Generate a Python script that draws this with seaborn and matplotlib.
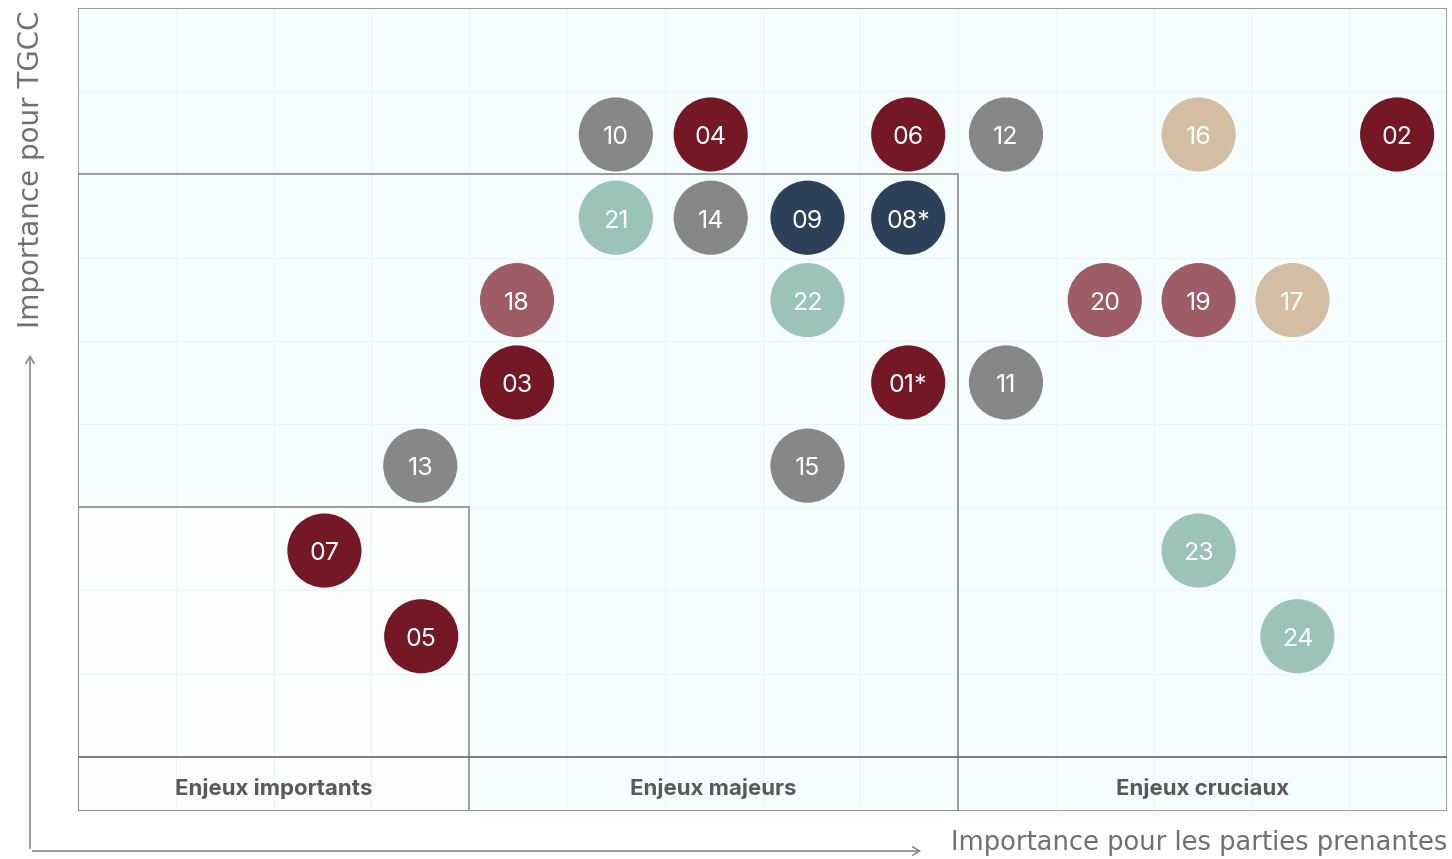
import pandas as pd
import matplotlib.pyplot as plt
import matplotlib.patches as mpatches
import seaborn as sns

# Enjeux : numéro, position (parties prenantes / TGCC), famille
labels = ['01*', '02', '03', '04', '05', '06', '07', '08*', '09', '10', '11', '12',
          '13', '14', '15', '16', '17', '18', '19', '20', '21', '22', '23', '24']
x_pp = [8.49, 13.49, 4.49, 6.47, 3.51, 8.49, 2.52, 8.49, 7.46, 5.50, 9.49, 9.49,
        3.50, 6.47, 7.46, 11.46, 12.42, 4.49, 11.46, 10.50, 5.50, 7.46, 11.46, 12.47]
y_tgcc = [4.50, 7.48, 4.50, 7.48, 1.45, 7.48, 2.48, 6.48, 6.48, 7.48, 4.50, 7.48,
          3.50, 6.48, 3.50, 7.48, 5.49, 5.49, 5.49, 5.49, 6.48, 5.49, 2.48, 1.45]
famille = ['rouge', 'rouge', 'rouge', 'rouge', 'rouge', 'rouge', 'rouge', 'marine', 'marine',
           'gris', 'gris', 'gris', 'gris', 'gris', 'gris', 'beige', 'beige', 'rose', 'rose',
           'rose', 'vert', 'vert', 'vert', 'vert']

palette = {'rouge': '#751826', 'gris': '#878787', 'marine': '#2c4057',
           'vert': '#9bc3b8', 'rose': '#9e5c64', 'beige': '#d3bea3'}

zones = ['Enjeux importants', 'Enjeux majeurs', 'Enjeux cruciaux']
zone_limites_x = [0, 4, 9, 14]
zone_limites_y = [3, 7, 9]

df = pd.DataFrame({'label': labels, 'x': x_pp, 'y': y_tgcc, 'famille': famille})

sns.set_style('white')
plt.rcParams['font.family'] = ['Inter', 'DejaVu Sans']

fig = plt.figure(figsize=(14.52, 8.59), dpi=100)
W, H = 1452, 859
ax = fig.add_axes([78 / W, 1 - 811 / H, (1447 - 78) / W, (811 - 8) / H])

band = -0.65
ax.set_xlim(0, 14)
ax.set_ylim(band, 9)

fond = '#f5fdfe'
edge = '#8c8c8c'
ax.add_patch(mpatches.Rectangle((0, band), 14, 9 - band, facecolor=fond, edgecolor='none', zorder=0))
ax.add_patch(mpatches.Rectangle((0, band), 4, 3 - band, facecolor='#fcfdfd', edgecolor='none', zorder=0))

# grille légère
for i in range(1, 14):
    ax.plot([i, i], [band, 9], color='#eef5f5', lw=0.8, zorder=0.5)
for j in range(1, 9):
    ax.plot([0, 14], [j, j], color='#eef5f5', lw=0.8, zorder=0.5)

# cadres des zones
for k in range(3):
    x1 = zone_limites_x[k + 1]
    top = zone_limites_y[k]
    ax.add_patch(mpatches.Rectangle((0, band), x1, top - band, facecolor='none',
                                    edgecolor=edge, lw=1.2, zorder=1))
ax.plot([0, 14], [0, 0], color='#666666', lw=1.2, zorder=1)

for k, z in enumerate(zones):
    xc = (zone_limites_x[k] + zone_limites_x[k + 1]) / 2
    ax.text(xc, band / 2 - 0.05, z, ha='center', va='center', fontsize=16,
            fontweight='bold', color='#595959', zorder=2)

sns.scatterplot(data=df, x='x', y='y', hue='famille', palette=palette, s=2850,
                edgecolor='none', legend=False, ax=ax, zorder=3)
for _, r in df.iterrows():
    ax.text(r['x'], r['y'] - 0.04, r['label'], ha='center', va='center',
            fontsize=18, color='white', zorder=4)

ax.set_xticks([])
ax.set_yticks([])
ax.set_xlabel('')
ax.set_ylabel('')
for s in ax.spines.values():
    s.set_visible(False)

# flèches des axes
def fx(p):
    return p / W

def fy(p):
    return 1 - p / H

fig.add_artist(mpatches.FancyArrowPatch((fx(30), fy(851)), (fx(30), fy(352)),
                                        transform=fig.transFigure, arrowstyle='->,head_length=5,head_width=3',
                                        color='#8a8a8a', lw=1.2))
fig.add_artist(mpatches.FancyArrowPatch((fx(30), fy(851)), (fx(924), fy(851)),
                                        transform=fig.transFigure, arrowstyle='->,head_length=5,head_width=3',
                                        color='#8a8a8a', lw=1.2))
fig.text(fx(1447), fy(843), 'Importance pour les parties prenantes', ha='right', va='center',
         fontsize=18.5, color='#707070', family='DejaVu Sans')
fig.text(fx(31), fy(10), 'Importance pour TGCC', ha='center', va='top', rotation=90,
         fontsize=20, color='#707070', family='DejaVu Sans')

plt.savefig('out.png', dpi=100)
